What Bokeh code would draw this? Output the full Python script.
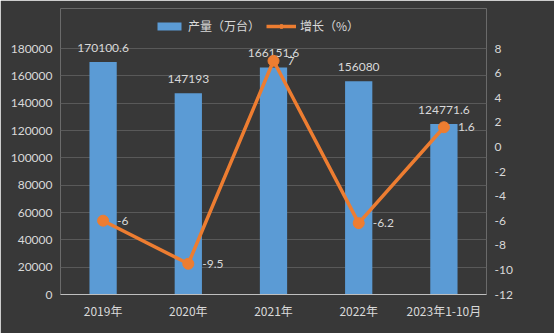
from bokeh.plotting import figure
from bokeh.models import (FactorRange, Range1d, LinearAxis, ColumnDataSource,
                          Legend, LegendItem, FixedTicker, CustomJSTickFormatter)
from bokeh.core.properties import value
from bokeh.embed import file_html
from bokeh.resources import INLINE

categories = ["2019年", "2020年", "2021年", "2022年", "2023年1-10月"]
output = [170100.6, 147193, 166151.6, 156080, 124771.6]
growth = [-6, -9.5, 7, -6.2, 1.6]
output_labels = ["170100.6", "147193", "166151.6", "156080", "124771.6"]
growth_labels = ["-6", "-9.5", "7", "-6.2", "1.6"]
left_ticks = [0, 20000, 40000, 60000, 80000, 100000, 120000, 140000, 160000, 180000]
right_ticks = [-12, -10, -8, -6, -4, -2, 0, 2, 4, 6, 8]

BG = "#383838"
TXT = "#d9d9d9"
NUMFONT = "Lato"
CJK = "Noto Sans CJK SC"

TOP = 8
BOTTOM = 39
H = 333
frame_h = H - TOP - BOTTOM
scale = frame_h / 246.0  # 246 px between 0 and the top tick in the reference

p = figure(width=554, height=H, x_range=FactorRange(*categories),
           y_range=Range1d(0, 180000 * scale), output_backend="svg",
           toolbar_location=None, min_border_left=60, min_border_right=68,
           min_border_top=TOP, min_border_bottom=BOTTOM)
p.background_fill_color = BG
p.border_fill_color = BG
p.outline_line_color = None
p.x_range.range_padding = 0
p.extra_y_ranges = {"g": Range1d(-12, -12 + 20 * scale)}

src = ColumnDataSource(dict(x=categories, y=output, g=growth,
                            ol=output_labels, gl=growth_labels))

bars = p.vbar(x="x", top="y", width=0.32, source=src, fill_color="#5b9bd5",
              line_color=None)
p.text(x="x", y="y", text="ol", source=src, text_align="center",
       text_baseline="bottom", y_offset=-10, text_color=TXT,
       text_font=value(NUMFONT), text_font_size="12px")

line = p.line(x="x", y="g", source=src, y_range_name="g", line_color="#ed7d31",
              line_width=3.5)
pts = p.scatter(x="x", y="g", source=src, y_range_name="g", size=11,
                fill_color="#ed7d31", line_color="#ed7d31")
p.text(x="x", y="g", text="gl", source=src, y_range_name="g", text_align="left",
       text_baseline="middle", x_offset=14, text_color=TXT,
       text_font=value(NUMFONT), text_font_size="12px")

p.yaxis.ticker = FixedTicker(ticks=left_ticks)
p.yaxis.formatter = CustomJSTickFormatter(code="return tick.toString()")
ax2 = LinearAxis(y_range_name="g", ticker=FixedTicker(ticks=right_ticks),
                 formatter=CustomJSTickFormatter(code="return tick.toString()"))
p.add_layout(ax2, "right")

for ax in [p.yaxis[0], ax2]:
    ax.axis_line_color = None
    ax.major_tick_line_color = None
    ax.minor_tick_line_color = None
    ax.major_tick_out = 0
    ax.minor_tick_out = 0
    ax.major_label_text_color = TXT
    ax.major_label_text_font = NUMFONT
    ax.major_label_text_font_size = "12px"
    ax.major_label_standoff = 8

p.xaxis.axis_line_color = "#bfbfbf"
p.xaxis.axis_line_width = 1
p.xaxis.major_tick_line_color = None
p.xaxis.minor_tick_line_color = None
p.xaxis.major_tick_out = 0
p.xaxis.minor_tick_out = 0
p.xaxis.major_label_text_color = TXT
p.xaxis.major_label_text_font = CJK
p.xaxis.major_label_text_font_size = "12px"
p.xaxis.major_label_standoff = 7

p.xgrid.grid_line_color = None
p.ygrid.ticker = FixedTicker(ticks=left_ticks)
p.ygrid.grid_line_color = "#595959"
p.ygrid.grid_line_width = 1

legend = Legend(items=[LegendItem(label="产量（万台）", renderers=[bars]),
                       LegendItem(label="增长（%）", renderers=[line, pts])],
                orientation="horizontal", location=(94, frame_h - 26),
                background_fill_alpha=0, border_line_color=None,
                label_text_color=TXT, label_text_font=CJK,
                label_text_font_size="12px", glyph_width=30, glyph_height=10,
                spacing=6, padding=2, margin=0, label_standoff=4)
p.add_layout(legend)

open("out.html", "w").write(file_html(p, INLINE))
